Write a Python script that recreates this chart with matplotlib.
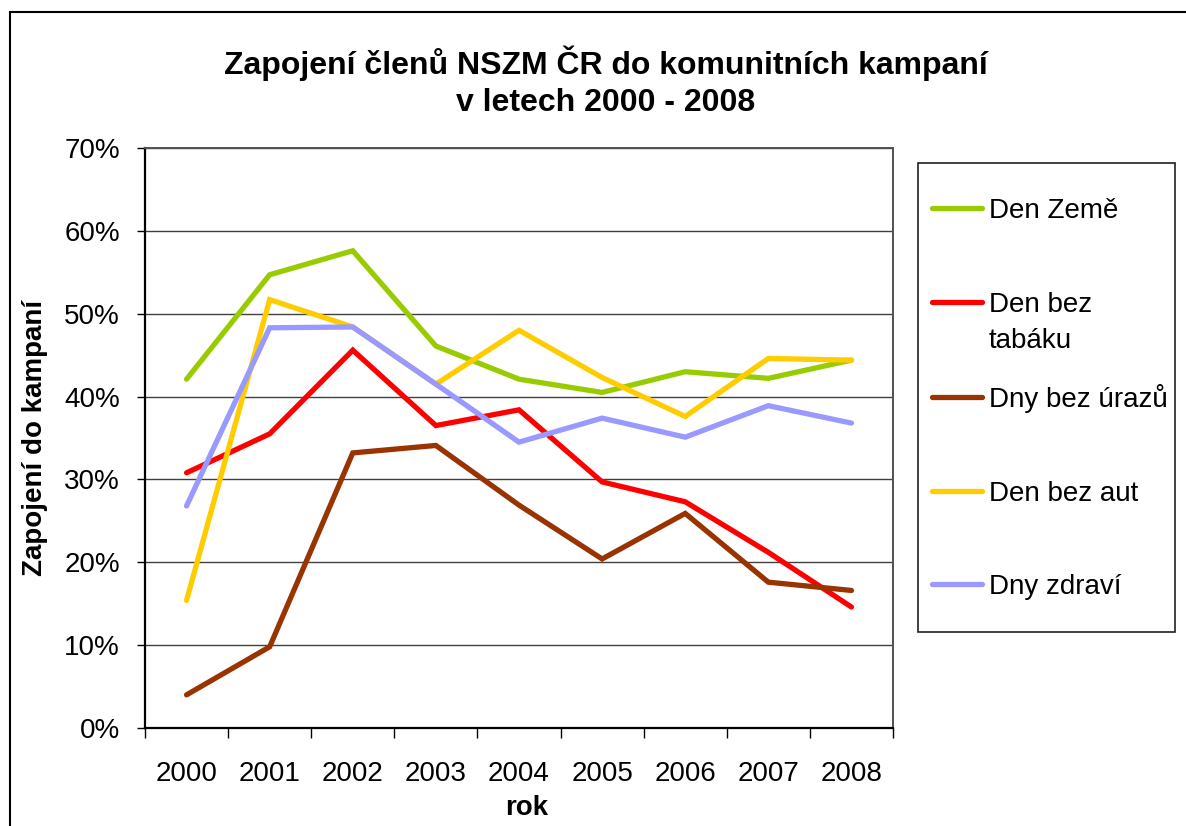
import matplotlib
matplotlib.use("Agg")
import matplotlib.pyplot as plt
import numpy as np
from matplotlib.lines import Line2D
from matplotlib.patches import Rectangle
from matplotlib.ticker import FuncFormatter

plt.rcParams['font.family'] = ['Liberation Sans', 'DejaVu Sans']

years = ["2000", "2001", "2002", "2003", "2004", "2005", "2006", "2007", "2008"]
den_zeme = [42.1, 54.7, 57.6, 46.1, 42.1, 40.5, 43.0, 42.2, 44.4]
den_bez_tabaku = [30.8, 35.5, 45.6, 36.5, 38.4, 29.7, 27.3, 21.2, 14.6]
dny_bez_urazu = [4.0, 9.8, 33.2, 34.1, 26.9, 20.4, 25.9, 17.6, 16.6]
den_bez_aut = [15.4, 51.7, 48.4, 41.5, 48.0, 42.3, 37.6, 44.6, 44.4]
dny_zdravi = [26.8, 48.3, 48.4, 41.5, 34.5, 37.4, 35.1, 38.9, 36.8]

names = ["Den Země", "Den bez\ntabáku", "Dny bez úrazů", "Den bez aut", "Dny zdraví"]
series = [den_zeme, den_bez_tabaku, dny_bez_urazu, den_bez_aut, dny_zdravi]
colors = ["#99CC00", "#FF0000", "#993300", "#FFCC00", "#9999FF"]

W, H = 1186, 826
fig = plt.figure(figsize=(W / 100, H / 100), dpi=100)


def fx(px):
    return px / W


def fy(py):
    return 1 - py / H


# outer chart frame (runs off the right/bottom edge like the screenshot)
fig.patches.append(Rectangle((fx(10), fy(840)), fx(1200), fy(12) - fy(840),
                             transform=fig.transFigure, fill=False,
                             edgecolor="black", linewidth=1.5))

ax = fig.add_axes([fx(145), fy(728), fx(893) - fx(145), fy(148) - fy(728)])
x = np.arange(len(years))
for vals, col in zip(series, colors):
    ax.plot(x, vals, color=col, linewidth=3.8, solid_capstyle="round",
            solid_joinstyle="miter")

ax.set_xlim(-0.5, len(years) - 0.5)
ax.set_ylim(0, 70)
ax.set_yticks(np.arange(0, 71, 10))
ax.yaxis.set_major_formatter(FuncFormatter(lambda v, p: f"{v:.0f}%"))
ax.grid(axis="y", color="#404040", linewidth=1)
ax.set_axisbelow(True)

ax.set_xticks(x)
ax.set_xticklabels(years)
ax.set_xticks(np.arange(-0.5, len(years)), minor=True)
ax.tick_params(axis="x", which="major", length=0, pad=24, labelsize=20)
ax.tick_params(axis="x", which="minor", length=7, width=1, direction="out")
ax.tick_params(axis="y", length=6, width=1, direction="out", pad=12, labelsize=20)

for side in ["left", "bottom"]:
    ax.spines[side].set_linewidth(1.6)
    ax.spines[side].set_color("black")
for side in ["top", "right"]:
    ax.spines[side].set_linewidth(1.4)
    ax.spines[side].set_color("#505050")

ax.set_xlabel("rok", fontsize=20, fontweight="bold")
ax.xaxis.set_label_coords(0.51, -0.116)
ax.set_ylabel("Zapojení do kampaní", fontsize=20, fontweight="bold")
ax.yaxis.set_label_coords(-0.13, 0.5)

fig.text(fx(606), fy(82), "Zapojení členů NSZM ČR do komunitních kampaní\nv letech 2000 - 2008",
         ha="center", va="center", fontsize=23, fontweight="bold", linespacing=1.32)

# hand-made legend box, placed like the spreadsheet one
fig.patches.append(Rectangle((fx(918), fy(632)), fx(1175) - fx(918), fy(163) - fy(632),
                             transform=fig.transFigure, fill=False,
                             edgecolor="#202020", linewidth=1.2))
leg_y = [208, 302, 397, 491, 584]
for name, col, ly in zip(names, colors, leg_y):
    fig.lines.append(Line2D([fx(932), fx(982)], [fy(ly), fy(ly)],
                            transform=fig.transFigure, color=col, linewidth=3.8,
                            solid_capstyle="round"))
    # handle sits on the first text line, wrapped lines go below it
    for i, part in enumerate(name.split("\n")):
        fig.text(fx(989), fy(ly + 10 + i * 36), part, ha="left", va="baseline",
                 fontsize=20)

fig.savefig("out.png", dpi=100)
